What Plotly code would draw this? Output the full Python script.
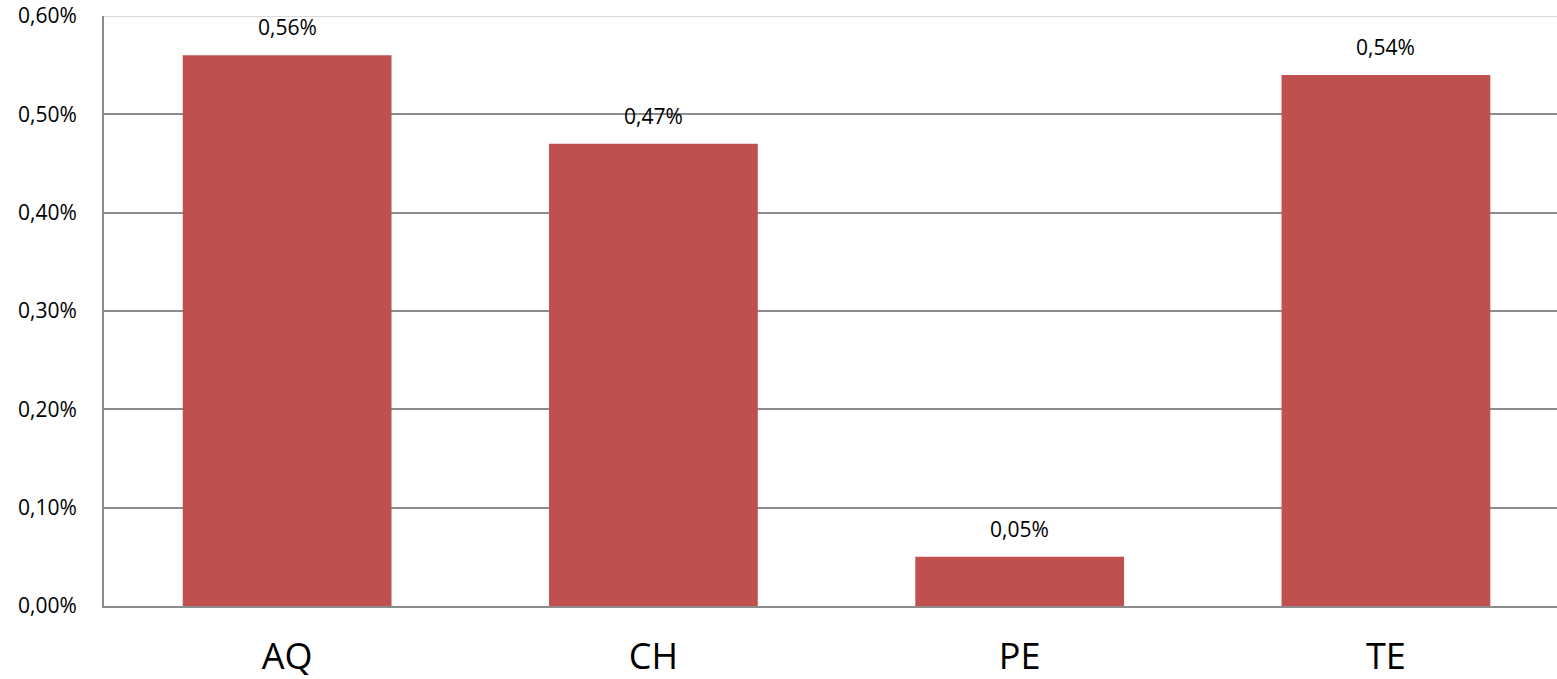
import plotly.graph_objects as go

categories = ["AQ", "CH", "PE", "TE"]
values = [0.0056, 0.0047, 0.0005, 0.0054]
y_ticks = [0, 0.001, 0.002, 0.003, 0.004, 0.005, 0.006]

BAR = "#C0504D"
FONT = "Open Sans"

fig = go.Figure()
fig.add_trace(go.Bar(
    x=categories, y=values, width=0.57,
    marker=dict(color=BAR, line=dict(width=0)),
    hoverinfo="skip",
))

for c, v in zip(categories, values):
    fig.add_annotation(
        x=c, y=v, text=f"{v*100:.2f}%".replace(".", ","),
        showarrow=False, yanchor="bottom", yshift=12,
        font=dict(family=FONT, size=21, color="#000"),
    )

fig.add_shape(type="line", xref="paper", yref="y", x0=0, x1=1, y0=0.006, y1=0.006,
              line=dict(color="#d9d9d9", width=2), layer="above")

fig.update_layout(
    width=1557, height=679,
    margin=dict(l=104, r=0, t=16, b=73),
    paper_bgcolor="white", plot_bgcolor="white",
    separators=",.",
    showlegend=False,
    xaxis=dict(
        range=[-0.5, 3.467], showgrid=False, automargin=False,
        showline=True, linecolor="#8c8c8c", linewidth=2,
        ticks="", ticklabelstandoff=18,
        tickfont=dict(family=FONT, size=36, color="#000"),
    ),
    yaxis=dict(
        range=[0, 0.006], tickvals=y_ticks, tickformat=".2%", automargin=False,
        showgrid=True, gridcolor="#8c8c8c", gridwidth=1.5,
        showline=True, linecolor="#8c8c8c", linewidth=2,
        zeroline=False, ticks="", ticklabelstandoff=21,
        tickfont=dict(family=FONT, size=21, color="#000"),
    ),
)

fig.write_html("out.html", config={"displayModeBar": False},
               post_script="document.body.style.margin='0';document.body.style.overflow='hidden';")
